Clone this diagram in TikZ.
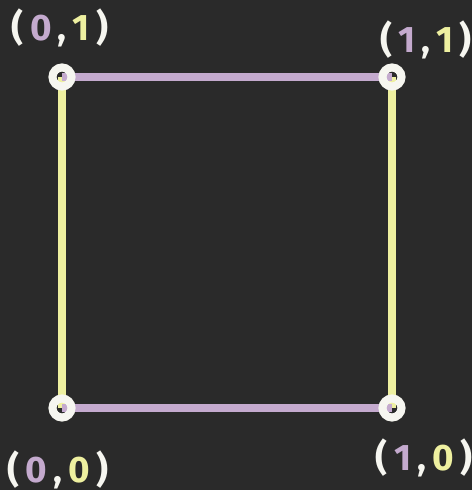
\documentclass[tikz,border=0pt]{standalone}
\usepackage{fontspec}
\setmainfont{Fira Sans}
\definecolor{board}{RGB}{42,42,42}
\definecolor{chalkpurple}{RGB}{196,170,206}
\definecolor{chalkyellow}{RGB}{238,240,160}
\definecolor{chalkwhite}{RGB}{246,246,240}
\usetikzlibrary{positioning}
\tikzset{
  corner/.style={draw=chalkwhite, circle, line width=4.6pt, minimum size=0.38cm, inner sep=0pt},
  hedge/.style={draw=chalkpurple, line width=4.4pt},
  vedge/.style={draw=chalkyellow, line width=4pt},
  clabel/.style={font=\fontsize{21}{21}\selectfont\bfseries, text=chalkwhite, inner sep=0pt},
}
\newcommand{\px}[1]{\textcolor{chalkpurple}{#1}}
\newcommand{\py}[1]{\textcolor{chalkyellow}{#1}}

\begin{document}
\begin{tikzpicture}[x=0.02cm, y=0.02cm]

% chalkboard
\fill[board] (0,0) rectangle (472,490);
\useasboundingbox (0,0) rectangle (472,490);

% corners of the square
\coordinate (c00) at (62,82);
\coordinate (c10) at (392,82);
\coordinate (c01) at (62,413);
\coordinate (c11) at (392,413);

% edges
\draw[vedge] (c00) -- (c01);
\draw[vedge] (c10) -- (c11);
\draw[hedge] (c01) -- (c11);
\draw[hedge] (c00) -- (c10);

% chalk rings
\node[corner] (v00) at (c00) {};
\node[corner] (v10) at (c10) {};
\node[corner] (v01) at (c01) {};
\node[corner] (v11) at (c11) {};

% labels
\node[clabel] (l01) at (60,462) {(\,\px{0}\,,\,\py{1}\,)};
\node[clabel] (l11) at (426,450) {(\,\px{1}\,,\,\py{1}\,)};
\node[clabel] (l00) at (58,20) {(\,\px{0}\,,\,\py{0}\,)};
\node[clabel] (l10) at (424,32) {(\,\px{1}\,,\,\py{0}\,)};

\end{tikzpicture}
\end{document}
